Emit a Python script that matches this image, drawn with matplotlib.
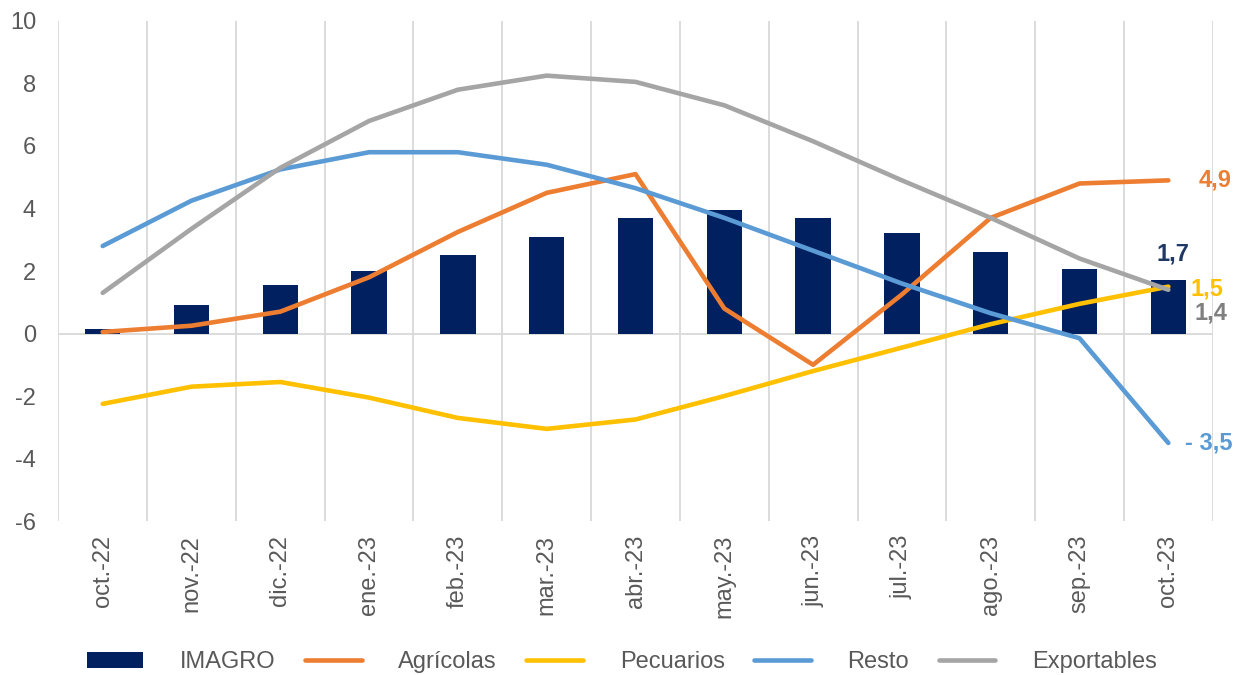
import numpy as np
from matplotlib import pyplot as plt
from matplotlib.ticker import FuncFormatter

# months on the x axis
months = ["oct.-22", "nov.-22", "dic.-22", "ene.-23", "feb.-23", "mar.-23", "abr.-23",
          "may.-23", "jun.-23", "jul.-23", "ago.-23", "sep.-23", "oct.-23"]

# series values
imagro = [0.16, 0.9, 1.55, 2.0, 2.5, 3.1, 3.7, 3.95, 3.7, 3.2, 2.6, 2.05, 1.7]
agricolas = [0.05, 0.25, 0.7, 1.8, 3.25, 4.5, 5.1, 0.8, -1.0, 1.25, 3.7, 4.8, 4.9]
pecuarios = [-2.25, -1.7, -1.55, -2.05, -2.7, -3.05, -2.75, -2.0, -1.2, -0.45, 0.3, 0.95, 1.5]
resto = [2.8, 4.25, 5.25, 5.8, 5.8, 5.4, 4.65, 3.7, 2.65, 1.6, 0.65, -0.15, -3.5]
exportables = [1.3, 3.35, 5.3, 6.8, 7.8, 8.25, 8.05, 7.3, 6.15, 4.9, 3.7, 2.4, 1.4]

plt.rcParams['font.family'] = ['Liberation Sans', 'DejaVu Sans']

NAVY = '#002060'
ORANGE = '#ED7D31'
YELLOW = '#FFC000'
BLUE = '#5B9BD5'
GRAY = '#A5A5A5'
TXT = '#595959'

fig = plt.figure(figsize=(12.4, 6.75), dpi=100)
ax = fig.add_axes([0.047, 0.228, 0.931, 0.741])

x = np.arange(len(months))

# vertical grid at category boundaries, zero line
for b in np.arange(-0.5, len(months), 1.0):
  ax.axvline(b, color='#D9D9D9', lw=1.3, zorder=0)
ax.axhline(0, color='#D9D9D9', lw=1.3, zorder=0)

bars = ax.bar(x, imagro, width=0.4, color=NAVY, label='IMAGRO', zorder=2)
lw = 3.3
l1, = ax.plot(x, agricolas, color=ORANGE, lw=lw, label='Agrícolas', solid_capstyle='round', zorder=3)
l2, = ax.plot(x, pecuarios, color=YELLOW, lw=lw, label='Pecuarios', solid_capstyle='round', zorder=3)
l3, = ax.plot(x, resto, color=BLUE, lw=lw, label='Resto', solid_capstyle='round', zorder=3)
l4, = ax.plot(x, exportables, color=GRAY, lw=lw, label='Exportables', solid_capstyle='round', zorder=3)

# end labels
last = len(months) - 1
def end_label(val, text, color, dx, dy, ha='left'):
  ax.annotate(text, xy=(last, val), xytext=(dx, dy), textcoords='offset points',
              ha=ha, va='center', color=color, fontsize=17, fontweight='bold')

end_label(agricolas[-1], '4,9', ORANGE, 22, 0)
end_label(imagro[-1], '1,7', '#203864', 3, 19, ha='center')
end_label(pecuarios[-1], '1,5', YELLOW, 16, -2)
end_label(exportables[-1], '1,4', '#7F7F7F', 19, -17)
end_label(resto[-1], '- 3,5', BLUE, 12, 0)

ax.set_xlim(-0.5, len(months) - 0.5)
ax.set_ylim(-6, 10)
ax.set_yticks(np.arange(-6, 11, 2))
ax.yaxis.set_major_formatter(FuncFormatter(lambda v, p: '%d' % v))
ax.set_xticks(x)
ax.set_xticklabels(months, rotation=90)
ax.tick_params(axis='y', length=0, pad=16, labelsize=17, labelcolor=TXT)
ax.tick_params(axis='x', length=0, pad=10, labelsize=17, labelcolor=TXT)
for s in ax.spines.values():
  s.set_visible(False)

ax.legend(handles=[bars, l1, l2, l3, l4], loc='center', bbox_to_anchor=(0.488, -0.282),
          ncol=5, frameon=False, fontsize=17, labelcolor=TXT, handlelength=2.4,
          handletextpad=1.55, columnspacing=1.25)

fig.savefig('out.png', dpi=100)
